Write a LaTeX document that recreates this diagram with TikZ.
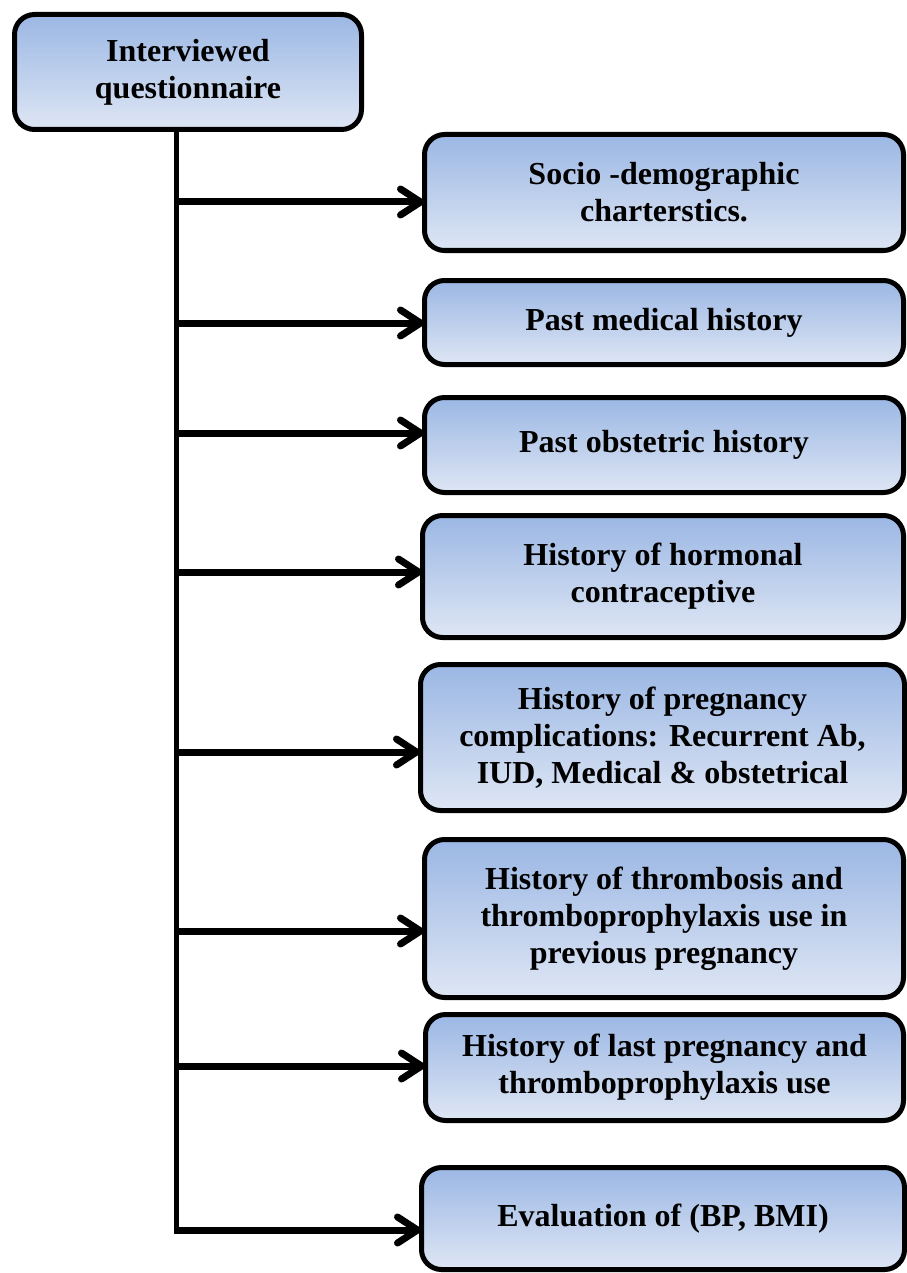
\documentclass[tikz,border=0pt]{standalone}
\usepackage{fontspec}
\setmainfont{Liberation Serif}
\usetikzlibrary{arrows.meta}
\definecolor{gtop}{RGB}{155,183,228}
\definecolor{gbot}{RGB}{222,230,244}
\tikzset{
  box/.style={draw=black, line width=5pt, rounded corners=20pt,
    top color=gtop, bottom color=gbot, align=center, inner sep=0pt,
    font=\fontsize{32}{37}\selectfont\bfseries},
  trunk/.style={line width=5pt},
  arr/.style={line width=7pt, -{Straight Barb[length=20pt,width=26pt,line cap=round,line join=round]}, shorten >=-2pt}
}
\begin{document}
\begin{tikzpicture}[x=1pt,y=-1pt]
\useasboundingbox (0,0) rectangle (906,1273);
\node[box, minimum width=347pt, minimum height=115pt] (top) at (188,72) {Interviewed\\questionnaire};
\node[box, minimum width=479pt, minimum height=116pt] (s1) at (664,192.5) {Socio -demographic\\charterstics.};
\node[box, minimum width=479pt, minimum height=84pt] (s2) at (664,322.5) {Past medical history};
\node[box, minimum width=479pt, minimum height=95pt] (s3) at (664,445) {Past obstetric history};
\node[box, minimum width=481pt, minimum height=122pt] (s4) at (663,576.5) {History of hormonal\\contraceptive};
\node[box, minimum width=484pt, minimum height=146pt] (s5) at (662.5,737.5) {History of pregnancy\\complications: Recurrent Ab,\\IUD, Medical \& obstetrical};
\node[box, minimum width=479pt, minimum height=158pt] (s6) at (664,918.5) {History of thrombosis and\\thromboprophylaxis use in\\previous pregnancy};
\node[box, minimum width=478pt, minimum height=106pt] (s7) at (664.5,1067.5) {History of last pregnancy and\\thromboprophylaxis use};
\node[box, minimum width=483pt, minimum height=102pt] (s8) at (663,1218.5) {Evaluation of (BP, BMI)};
\coordinate (t0) at (176,132);
\coordinate (b1) at (176,202);
\coordinate (b2) at (176,323);
\coordinate (b3) at (176,433);
\coordinate (b4) at (176,572);
\coordinate (b5) at (176,752);
\coordinate (b6) at (176,931);
\coordinate (b7) at (176,1066);
\coordinate (b8) at (176,1230);
\draw[trunk] (top.south -| t0) -- ([yshift=-3.5pt]b8);
\draw[arr] (b1) -- (s1.west |- b1);
\draw[arr] (b2) -- (s2.west |- b2);
\draw[arr] (b3) -- (s3.west |- b3);
\draw[arr] (b4) -- (s4.west |- b4);
\draw[arr] (b5) -- (s5.west |- b5);
\draw[arr] (b6) -- (s6.west |- b6);
\draw[arr] (b7) -- (s7.west |- b7);
\draw[arr] ([xshift=-2.5pt]b8) -- (s8.west |- b8);
\end{tikzpicture}
\end{document}
